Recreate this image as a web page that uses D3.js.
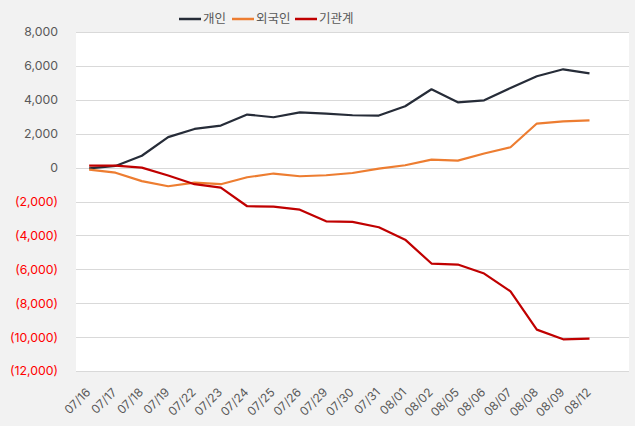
<!DOCTYPE html>
<html>
<head>
<meta charset="utf-8">
<script src="https://cdn.jsdelivr.net/npm/d3@7"></script>
<style>
  body { margin: 0; background: #f2f2f2; }
  text { font-family: Inter, "Noto Sans CJK KR", sans-serif; }
</style>
</head>
<body>
<div id="chart"></div>
<script>
//Chart data
var dates = ["07/16", "07/17", "07/18", "07/19", "07/22", "07/23", "07/24", "07/25", "07/26", "07/29",
             "07/30", "07/31", "08/01", "08/02", "08/05", "08/06", "08/07", "08/08", "08/09", "08/12"];
var seriesNames = ["개인", "외국인", "기관계"];
var individual = [-50, 100, 700, 1800, 2280, 2480, 3130, 2970, 3260, 3190,
                  3090, 3070, 3620, 4620, 3850, 3970, 4700, 5390, 5800, 5560];
var foreign = [-120, -300, -800, -1100, -890, -980, -570, -350, -510, -450,
               -320, -60, 140, 470, 410, 830, 1200, 2600, 2730, 2790];
var institution = [120, 120, 0, -470, -980, -1180, -2280, -2300, -2480, -3170,
                   -3200, -3520, -4250, -5660, -5720, -6250, -7300, -9560, -10130, -10090];
var yTicks = [8000, 6000, 4000, 2000, 0, -2000, -4000, -6000, -8000, -10000, -12000];
var colors = ["#262c38", "#ed7d31", "#c00000"];

//Canvas dimensions and margins
var width = 635,
    height = 426;

var margin = {
    top: 32,
    bottom: 55,
    left: 76,
    right: 6,
}

var svg = d3.select("#chart")
            .append("svg")
            .attr("width", width)
            .attr("height", height);

var innerW = width - margin.left - margin.right,
    innerH = height - margin.top - margin.bottom;

//Plot background
svg.append("rect")
   .attr("x", margin.left)
   .attr("y", margin.top)
   .attr("width", innerW)
   .attr("height", innerH)
   .attr("fill", "#ffffff");

//Scales (one empty slot left on the right, as in the original)
var x = d3.scaleBand()
          .domain(dates.concat([""]))
          .range([margin.left, margin.left + innerW]);

var y = d3.scaleLinear()
          .domain([-12000, 8000])
          .range([margin.top + innerH, margin.top]);

var numberFormat = d3.format(",d");

//Gridlines
svg.append("g")
   .selectAll("line")
   .data(yTicks)
   .enter()
   .append("line")
   .attr("x1", margin.left)
   .attr("x2", margin.left + innerW)
   .attr("y1", function(d) { return Math.round(y(d)) + 0.5; })
   .attr("y2", function(d) { return Math.round(y(d)) + 0.5; })
   .attr("stroke", "#d9d9d9")
   .attr("stroke-width", 1);

//Y axis labels
var yAxis = svg.append("g")
               .attr("transform", "translate(" + (margin.left - 15) + ",0)")
               .call(d3.axisLeft(y).tickValues(yTicks).tickSize(0)
                     .tickFormat(function(d) { return d < 0 ? "(" + numberFormat(-d) + ")" : numberFormat(d); }));
yAxis.select(".domain").remove();
yAxis.selectAll("text")
     .attr("font-size", 12.3)
     .attr("font-family", "Inter, sans-serif")
     .attr("fill", function(d) { return d < 0 ? "#ff0000" : "#595959"; });

//X axis labels
var xAxis = svg.append("g")
               .attr("transform", "translate(0," + (margin.top + innerH) + ")")
               .call(d3.axisBottom(x).tickValues(dates).tickSize(0));
xAxis.select(".domain").remove();
xAxis.selectAll("text")
     .attr("font-size", 12)
     .attr("font-family", "Inter, sans-serif")
     .attr("fill", "#595959")
     .attr("text-anchor", "end")
     .attr("dy", "0.35em")
     .attr("transform", "translate(-3,17) rotate(-45)");

//Lines
var allSeries = [individual, foreign, institution];
var line = d3.line()
             .x(function(d, i) { return x(dates[i]) + x.bandwidth() / 2; })
             .y(function(d) { return y(d); });

svg.append("g")
   .selectAll("path")
   .data(allSeries)
   .enter()
   .append("path")
   .attr("d", line)
   .attr("fill", "none")
   .attr("stroke", function(d, i) { return colors[i]; })
   .attr("stroke-width", 2.2)
   .attr("stroke-linejoin", "round");

//Legend
var legendX = [179, 232, 295];
var legend = svg.append("g")
                .selectAll("g")
                .data(seriesNames)
                .enter()
                .append("g")
                .attr("transform", function(d, i) { return "translate(" + legendX[i] + ",19)"; });

legend.append("line")
      .attr("x1", 0)
      .attr("x2", 22)
      .attr("stroke", function(d, i) { return colors[i]; })
      .attr("stroke-width", 2.5);

legend.append("text")
      .attr("x", 24)
      .attr("dy", "0.35em")
      .attr("font-size", 12.5)
      .attr("font-family", "'Noto Sans CJK KR', sans-serif")
      .attr("fill", "#595959")
      .text(function(d) { return d; });
</script>
</body>
</html>
